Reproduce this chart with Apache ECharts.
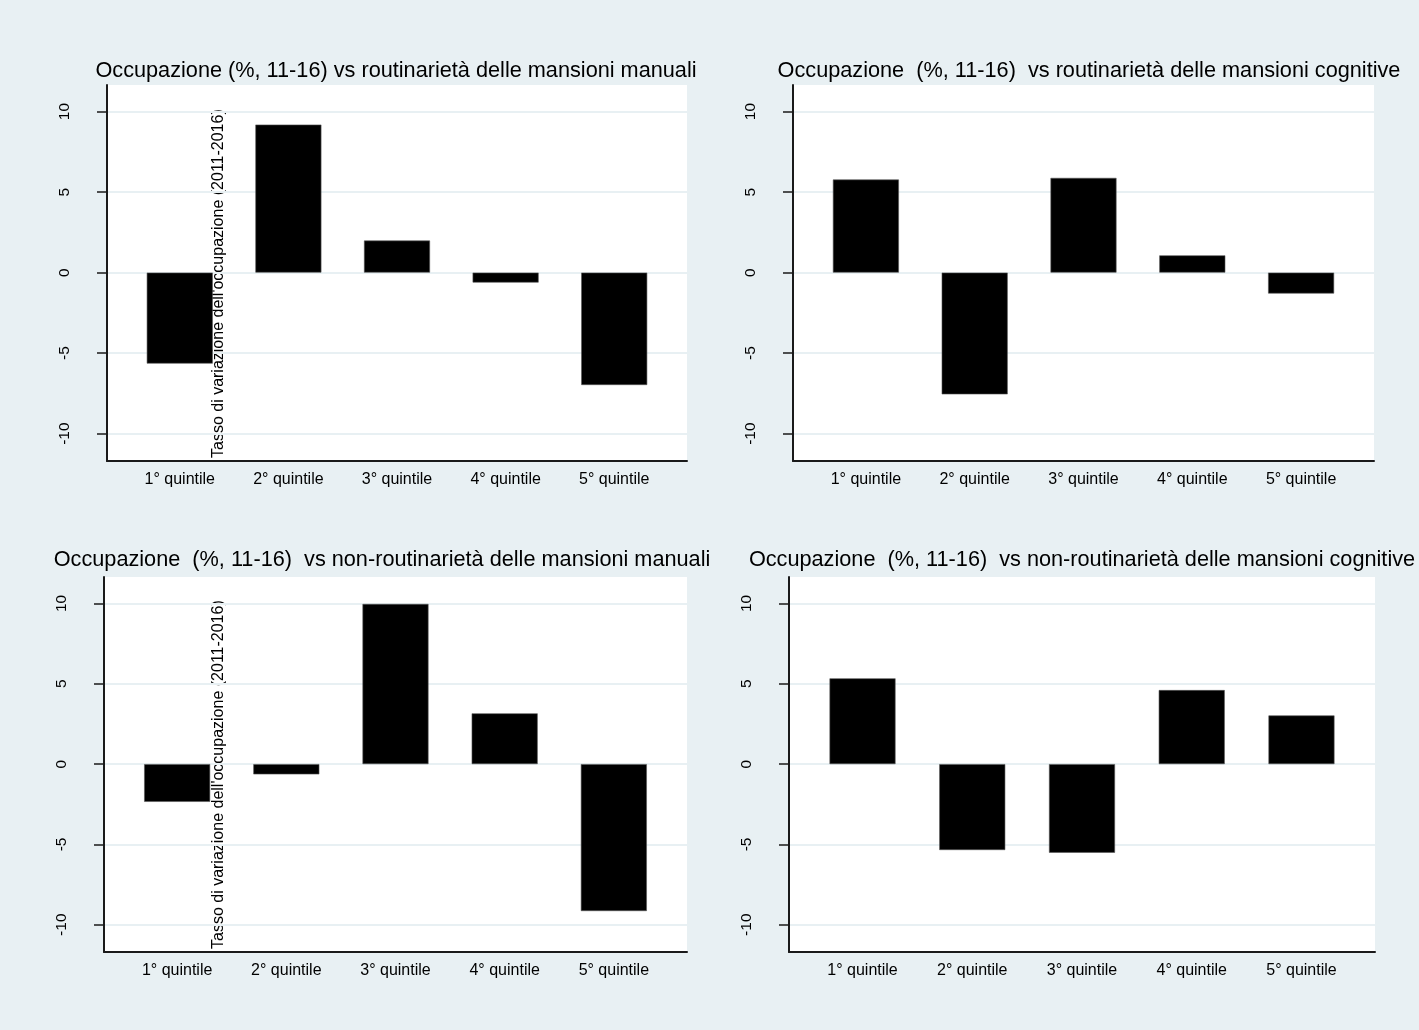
<!DOCTYPE html>
<html><head><meta charset="utf-8">
<script src="https://cdn.jsdelivr.net/npm/echarts@6/dist/echarts.min.js"></script>
<style>html,body{margin:0;padding:0;background:#e8f0f3}#c{width:1419px;height:1030px}</style>
</head><body><div id="c"></div>
<script>
// ---- data ----
const categories = ['1° quintile', '2° quintile', '3° quintile', '4° quintile', '5° quintile'];
const routineManual = [-5.65, 9.19, 1.99, -0.62, -6.98];
const routineCognitive = [5.78, -7.56, 5.88, 1.07, -1.30];
const nonRoutineManual = [-2.35, -0.64, 9.97, 3.16, -9.15];
const nonRoutineCognitive = [5.34, -5.35, -5.52, 4.61, 3.03];
const yTickValues = [-10, -5, 0, 5, 10];
const panelTitles = [
  'Occupazione (%, 11-16) vs routinarietà delle mansioni manuali',
  'Occupazione  (%, 11-16)  vs routinarietà delle mansioni cognitive',
  'Occupazione  (%, 11-16)  vs non-routinarietà delle mansioni manuali',
  'Occupazione  (%, 11-16)  vs non-routinarietà delle mansioni cognitive'
];
const yAxisTitle = "Tasso di variazione dell'occupazione (2011-2016)";
const seriesValues = [routineManual, routineCognitive, nonRoutineManual, nonRoutineCognitive];

// ---- layout ----
const FONT = '"Liberation Sans", Arial, Helvetica, sans-serif';
const BG = '#e8f0f3';
const AXIS = '#1a1a1a';
const grids = [
  {left: 107, top: 85, width: 580, height: 376},
  {left: 793, top: 85, width: 581, height: 376},
  {left: 104, top: 577, width: 583, height: 375},
  {left: 789, top: 577, width: 586, height: 375}
];
const titlePos = [[396, 71], [1089, 71], [382, 560], [1082, 560]];
const yTitlePanels = [0, 2];

const option = {
  backgroundColor: BG,
  animation: false,
  textStyle: {fontFamily: FONT},
  grid: grids.map(g => Object.assign({show: true, backgroundColor: '#ffffff', borderWidth: 0, containLabel: false}, g)),
  xAxis: grids.map((g, i) => ({
    type: 'value', gridIndex: i, min: 0.33, max: 5.67,
    axisLine: {show: true, onZero: false, lineStyle: {color: AXIS, width: 2}},
    axisTick: {show: false},
    splitLine: {show: false},
    axisLabel: {
      customValues: [1, 2, 3, 4, 5],
      formatter: v => categories[Math.round(v) - 1],
      fontSize: 16, color: '#000', margin: 11, fontFamily: FONT
    }
  })),
  yAxis: grids.map((g, i) => ({
    type: 'value', gridIndex: i, min: -11.7, max: 11.65,
    axisLine: {show: true, onZero: false, lineStyle: {color: AXIS, width: 2}},
    axisTick: {show: true, customValues: yTickValues, length: 10, lineStyle: {color: AXIS, width: 1.5}},
    axisLabel: {customValues: yTickValues, rotate: 90, margin: 34, fontSize: 15.5, color: '#000', fontFamily: FONT},
    splitLine: {show: true, customValues: yTickValues, lineStyle: {color: BG, width: 2}}
  })),
  series: seriesValues.map((vals, i) => ({
    type: 'bar', xAxisIndex: i, yAxisIndex: i, silent: true,
    barWidth: 66,
    itemStyle: {color: '#000000', borderColor: '#555', borderWidth: 0.6},
    data: vals.map((v, k) => [k + 1, v])
  })),
  graphic: [
    ...panelTitles.map((t, i) => ({
      type: 'text', x: titlePos[i][0], y: titlePos[i][1], silent: true,
      style: {text: t, font: '21.7px ' + FONT, fill: '#000', align: 'center', verticalAlign: 'middle', textAlign: 'center', textVerticalAlign: 'middle'}
    })),
    ...yTitlePanels.map(p => ({
      type: 'text', x: 219, y: grids[p].top + grids[p].height - 3, rotation: Math.PI / 2, silent: true,
      style: {text: yAxisTitle, font: '16px ' + FONT, fill: '#000', align: 'left', verticalAlign: 'middle', textAlign: 'left', textVerticalAlign: 'middle'}
    }))
  ]
};
const chart = echarts.init(document.getElementById('c'), null, {renderer: 'canvas'});
chart.setOption(option);
</script>
</body></html>
